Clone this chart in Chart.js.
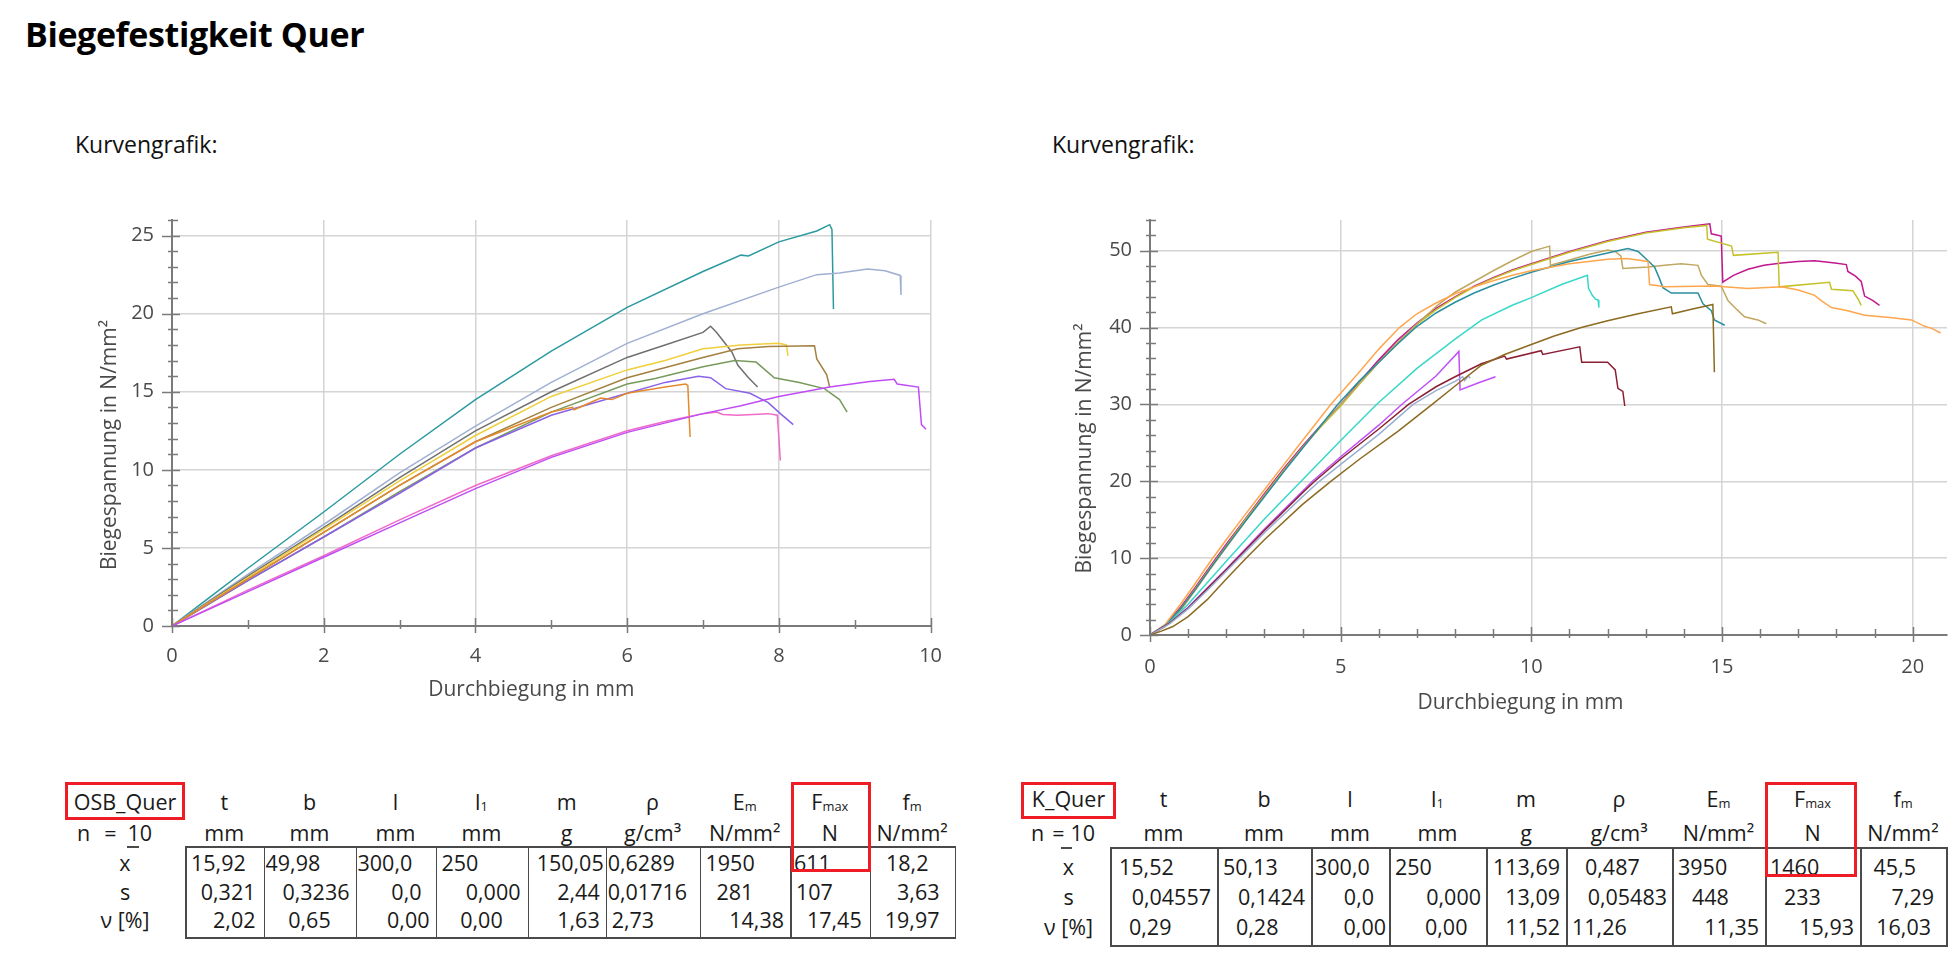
<!DOCTYPE html>
<html><head><meta charset="utf-8">
<script src="https://cdn.jsdelivr.net/npm/chart.js@4.4.1/dist/chart.umd.min.js"></script>
<style>
html,body{margin:0;padding:0;background:#fff;}
body{width:1960px;height:956px;position:relative;overflow:hidden;font-family:'Open Sans',sans-serif;color:#1a1a1a;}
#title{position:absolute;left:25px;top:11px;font-weight:700;font-size:34px;line-height:46px;color:#000;letter-spacing:-0.4px;white-space:nowrap;}
.kg{position:absolute;font-size:23px;line-height:30px;color:#111;white-space:nowrap;}
.cell{position:absolute;font-size:21.5px;line-height:29px;white-space:nowrap;color:#1a1a1a;}
.cell sub{font-size:60%;vertical-align:-0.05em;line-height:0;}
.ln{position:absolute;background:#4a4a4a;}
.red{position:absolute;border:3px solid #ee1c24;box-sizing:border-box;}
.wrap{position:absolute;}
</style></head><body>
<div id="title">Biegefestigkeit Quer</div>
<div class="kg" style="left:75px;top:129px;">Kurvengrafik:</div>
<div class="kg" style="left:1052px;top:129px;">Kurvengrafik:</div>
<div class="wrap" style="left:60px;top:190px;width:900px;height:531px;"><canvas id="c1"></canvas></div>
<div class="wrap" style="left:1040px;top:190px;width:920px;height:540px;"><canvas id="c2"></canvas></div>
<div id="tables"></div>
<script>
// ---------------- DATA: OSB_Quer curves (x = Durchbiegung mm, y = Biegespannung N/mm²)
const osbTeal   = [[0,0],[0.5,1.85],[1,3.7],[2,7.3],[3,11.0],[4,14.5],[5,17.6],[6,20.4],[7,22.7],[7.5,23.75],[7.6,23.7],[8,24.6],[8.5,25.3],[8.67,25.7],[8.7,25.4],[8.72,20.3]];
const osbSteel  = [[0,0],[1,3.3],[2,6.5],[3,9.8],[4,12.8],[5,15.6],[6,18.1],[7,20.0],[8,21.7],[8.5,22.5],[8.8,22.6],[9.17,22.86],[9.4,22.75],[9.6,22.45],[9.61,21.2]];
const osbGray   = [[0,0],[1,3.2],[2,6.3],[3,9.5],[4,12.5],[5,15.0],[6,17.2],[6.5,18.0],[7,18.8],[7.1,19.2],[7.18,18.8],[7.38,17.55],[7.46,16.7],[7.6,15.9],[7.72,15.3]];
const osbYellow = [[0,0],[1,3.1],[2,6.2],[3,9.3],[4,12.2],[5,14.7],[6,16.4],[6.5,17.0],[7,17.75],[7.5,18.0],[8,18.1],[8.1,18.0],[8.12,17.3]];
const osbBrown  = [[0,0],[1,3.0],[2,6.0],[3,9.0],[4,11.8],[5,14.0],[6,15.9],[7,17.2],[7.46,17.75],[7.86,17.9],[8.47,17.95],[8.5,17.1],[8.63,16.1],[8.67,15.3]];
const osbOlive  = [[0,0],[1,2.9],[2,5.7],[3,8.6],[4,11.4],[5,13.7],[6,15.5],[6.37,15.85],[7,16.6],[7.42,17.0],[7.7,16.9],[7.94,15.9],[8.27,15.6],[8.6,15.2],[8.8,14.5],[8.9,13.7]];
const osbViolet = [[0,0],[1,2.9],[2,5.7],[3,8.5],[4,11.4],[5,13.5],[6,14.9],[6.5,15.6],[6.94,16.0],[7.1,15.9],[7.3,15.2],[7.62,14.9],[7.86,14.3],[8.02,13.6],[8.19,12.9]];
const osbOrange = [[0,0],[1,3.0],[2,6.0],[3,9.0],[4,11.8],[5,13.7],[5.28,14.0],[5.3,13.85],[5.65,14.6],[5.8,14.5],[6,14.9],[6.5,15.3],[6.77,15.5],[6.8,15.4],[6.83,12.1]];
const osbPink   = [[0,0],[1,2.3],[2,4.5],[3,6.8],[4,9.0],[5,10.9],[6,12.5],[6.5,13.1],[7,13.6],[7.18,13.7],[7.26,13.55],[7.46,13.5],[7.86,13.6],[7.98,13.5],[8.02,10.6]];
const osbPurple = [[0,0],[1,2.2],[2,4.4],[3,6.6],[4,8.8],[5,10.8],[6,12.4],[7,13.6],[7.5,14.1],[8,14.7],[8.67,15.3],[9.2,15.65],[9.52,15.8],[9.56,15.5],[9.84,15.3],[9.88,12.9],[9.94,12.6]];

// ---------------- DATA: K_Quer curves
const kMagenta = [[0,0],[0.4,1.3],[0.8,3.6],[1.2,6.3],[1.6,9.1],[2,11.8],[2.5,15.1],[3,18.4],[3.5,21.6],[4,24.6],[4.5,27.4],[5,30],[5.5,33],[6,35.8],[6.5,38.4],[7,40.6],[7.5,42.5],[8,44],[8.5,45.4],[9,46.5],[9.5,47.5],[10,48.3],[11,49.9],[12,51.3],[13,52.4],[14,53.1],[14.68,53.5],[14.72,52.2],[14.98,51.9],[15.02,45.9],[15.3,46.8],[15.68,47.6],[16.1,48.1],[16.56,48.4],[17,48.6],[17.43,48.7],[17.96,48.4],[18.26,48.2],[18.3,47.3],[18.5,46.7],[18.65,46],[18.74,44.1],[18.96,43.5],[19.13,42.9]];
const kYellow  = [[0,0],[0.4,1.2],[0.8,3.4],[1.2,6.1],[1.6,8.9],[2,11.6],[2.5,15.0],[3,18.2],[3.5,21.4],[4,24.4],[4.5,27.2],[5,29.8],[5.5,32.7],[6,35.5],[6.5,38.1],[7,40.4],[7.5,42.3],[8,43.9],[8.5,45.3],[9,46.4],[9.5,47.4],[10,48.2],[11,49.8],[12,51.2],[13,52.3],[14,53.0],[14.6,53.3],[14.62,51.5],[15.25,50.6],[15.3,49.4],[16.47,49.8],[16.5,45.3],[17.82,45.9],[17.87,45.0],[18.43,44.8],[18.57,43.7],[18.65,42.9]];
const kTan     = [[0,0],[0.4,1.1],[0.8,3.2],[1.2,5.9],[1.6,8.7],[2,11.4],[2.5,14.8],[3,18.1],[3.5,21.3],[4,24.4],[4.5,27.3],[5,30],[5.5,32.8],[6,35.5],[6.5,38],[6.9,40],[7.56,43],[8,44.6],[8.5,46],[9,47.4],[9.5,48.7],[10,49.9],[10.48,50.6],[10.5,48.1],[11,48.8],[11.5,49.5],[12,50.1],[12.2,49.9],[12.35,49.3],[12.4,47.7],[13.06,47.9],[13.5,48.1],[13.93,48.3],[14.37,48.1],[14.46,46.8],[14.63,45.6],[14.98,45.4],[15.16,43.5],[15.4,42.3],[15.59,41.4],[15.94,41],[16.16,40.5]];
const kTeal    = [[0,0],[0.4,1.2],[0.8,3.4],[1.2,6.0],[1.6,8.8],[2,11.5],[2.5,14.8],[3,18.0],[3.5,21.2],[4,24.3],[4.5,27.4],[4.92,30],[5.5,33.1],[6,35.5],[6.5,37.9],[6.96,40],[7.5,41.9],[8,43.3],[8.5,44.5],[9,45.5],[9.5,46.4],[10,47.2],[11,48.6],[12,49.7],[12.53,50.3],[12.8,49.9],[13.06,48.7],[13.23,47.9],[13.35,46.5],[13.45,45.2],[13.67,44.5],[14.37,44.5],[14.5,43.1],[14.72,42.2],[14.8,41],[15.07,40.3]];
const kOrange  = [[0,0],[0.4,1.4],[0.8,4.0],[1.2,6.8],[1.6,9.7],[2,12.4],[2.5,15.7],[3,18.9],[3.5,22.1],[4,25.3],[4.74,30],[5.5,34.3],[6,37.2],[6.54,40],[7,41.8],[7.5,43.2],[8,44.4],[8.5,45.3],[9,46.1],[9.5,46.8],[10,47.4],[11,48.3],[12,48.9],[12.5,49],[13.06,48.6],[13.1,45.6],[13.5,45.3],[14.8,45.4],[15.68,45.1],[16.56,45.3],[17,44.9],[17.43,44.2],[17.6,43.5],[17.87,42.6],[18.3,42.2],[18.74,41.6],[19.4,41.3],[19.97,41],[20.3,40.2],[20.5,39.9],[20.73,39.3]];
const kTurq    = [[0,0],[0.5,1.6],[1,4.0],[1.5,6.8],[2,9.6],[3,15.1],[4,20.2],[5,25.3],[5.94,30],[7,34.7],[8,38.5],[8.7,41],[9.5,42.9],[10,43.9],[10.79,45.6],[11.47,46.8],[11.5,45.1],[11.6,44.2],[11.68,43.7],[11.75,43.6],[11.77,42.6]];
const kViolet  = [[0,0],[0.5,1.5],[1,3.6],[1.5,6.1],[2,8.6],[3,13.8],[4,18.7],[4.26,20],[5,23.2],[6,27.3],[6.6,30],[7.5,33.7],[8.1,36.9],[8.13,31.9],[8.6,32.8],[9.06,33.6]];
const kMaroon  = [[0,0],[0.5,1.5],[1,3.5],[1.5,6.0],[2,8.5],[3,13.6],[4,18.5],[4.32,20],[5,22.9],[6,26.8],[6.78,30],[7.5,32.3],[8,33.6],[8.69,35.3],[9.3,36.3],[9.35,35.9],[10.26,37],[10.3,36.5],[11.27,37.5],[11.32,35.5],[12.0,35.5],[12.2,34.5],[12.27,32.1],[12.4,31.7],[12.45,29.8]];
const kSteel   = [[0,0],[0.5,1.4],[1,3.4],[1.5,5.8],[2,8.3],[3,13.3],[4,18.0],[4.44,20],[5,22.2],[6,26.1],[6.9,30],[7.5,31.8],[8,33.0],[8.2,33.6],[8.25,33.1],[8.35,33.7],[8.4,33.4]];
const kBrown   = [[0,0],[0.3,0.5],[0.6,1.1],[1,2.4],[1.5,4.6],[2,7.3],[2.5,9.9],[3,12.4],[4,17.0],[4.74,20],[5.5,22.9],[6.5,26.5],[7.4,30],[8,32.4],[8.69,35.1],[9.3,36.5],[10,37.8],[10.6,38.9],[11.31,40],[12,40.9],[12.8,41.8],[13.67,42.7],[13.7,41.8],[14.2,42.4],[14.76,43],[14.8,34.2]];

// ---------------- DATA: tables
const headCols  = ['t','b','l','l<sub>1</sub>','m','ρ','E<sub>m</sub>','F<sub>max</sub>','f<sub>m</sub>'];
const unitCols  = ['mm','mm','mm','mm','g','g/cm³','N/mm²','N','N/mm²'];
const rowLabels = ['x','s','ν [%]'];
const nParts    = ['n','=','10'];
const osbRowX = ['15,92','49,98','300,0','250','150,05','0,6289','1950','611','18,2'];
const osbRowS = ['0,321','0,3236','0,0','0,000','2,44','0,01716','281','107','3,63'];
const osbRowV = ['2,02','0,65','0,00','0,00','1,63','2,73','14,38','17,45','19,97'];
const kRowX   = ['15,52','50,13','300,0','250','113,69','0,487','3950','1460','45,5'];
const kRowS   = ['0,04557','0,1424','0,0','0,000','13,09','0,05483','448','233','7,29'];
const kRowV   = ['0,29','0,28','0,00','0,00','11,52','11,26','11,35','15,93','16,03'];

// ---------------- layout / style (not data)
const osbLayout = {name:'OSB_Quer', cols:[185,263.5,355.5,435.5,527.5,605.7,699.5,790,869.7,954.5],
  nameBox:[65,185,782,820], fmaxBox:[791,871,782,872], rowsY:[802,833,863,892,920], boxY:[846,937], barX:[127,139], barY:846, nLeft:77, nGaps:[14,11],
  align:[['l6','l2','l2','l6','r2','l2','l6','l4','r26'],['r8','r6','r14','r7','r6','l2','l17','l6','r15'],['r8','c','r6','c','r6','l6','r6','r8','r15']]};
const kLayout = {name:'K_Quer', cols:[1110,1217,1311,1389,1486,1566,1672,1765,1860,1946],
  nameBox:[1021,1116,782,819], fmaxBox:[1765,1857,782,877], rowsY:[799,833,867,897,927], boxY:[847,945], barX:[1061,1072], barY:847, nLeft:1031, nGaps:[8,6],
  align:[['l9','l6','l4','l6','r6','l19','l6','l5','r30'],['r6','r6','r15','r5','r6','r5','l20','l19','r12'],['l19','l19','r3','l36','r6','l6','r6','r6','r15']]};

function addCell(root, x0, x1, cy, html, al){
  const d = document.createElement('div'); d.className='cell'; d.innerHTML = html;
  d.style.top = (cy - 15) + 'px';
  if (al === 'c'){ d.style.left = x0+'px'; d.style.width=(x1-x0)+'px'; d.style.textAlign='center'; }
  else if (al[0] === 'l'){ d.style.left = (x0 + parseFloat(al.slice(1)))+'px'; }
  else { d.style.left = x0+'px'; d.style.width = (x1 - x0 - parseFloat(al.slice(1)))+'px'; d.style.textAlign='right'; }
  root.appendChild(d);
  return d;
}
function addLine(root, x, y, w, h){ const d=document.createElement('div'); d.className='ln'; d.style.left=x+'px'; d.style.top=y+'px'; d.style.width=w+'px'; d.style.height=h+'px'; root.appendChild(d); }
function addBox(root, b){ const d=document.createElement('div'); d.className='red'; d.style.left=b[0]+'px'; d.style.width=(b[1]-b[0])+'px'; d.style.top=b[2]+'px'; d.style.height=(b[3]-b[2])+'px'; root.appendChild(d); }

function buildTable(L, rows){
  const root = document.getElementById('tables');
  const c = L.cols, ry = L.rowsY;
  addCell(root, L.nameBox[0], L.nameBox[1], ry[0], L.name, 'c');
  const nHtml = nParts[0] + '<span style="margin-left:'+L.nGaps[0]+'px">'+nParts[1]+'</span><span style="margin-left:'+L.nGaps[1]+'px">'+nParts[2]+'</span>';
  addCell(root, L.nLeft, L.nLeft, ry[1], nHtml, 'l0');
  const lc = (L.nameBox[0]+L.nameBox[1])/2;
  rowLabels.forEach((t,i)=> addCell(root, lc-60, lc+60, ry[2+i], t, 'c'));
  addLine(root, L.barX[0], L.barY, L.barX[1]-L.barX[0], 1.6);
  for (let j=0;j<9;j++){
    addCell(root, c[j], c[j+1], ry[0], headCols[j], 'c');
    addCell(root, c[j], c[j+1], ry[1], unitCols[j], 'c');
    rows.forEach((r,i)=> addCell(root, c[j], c[j+1], ry[2+i], r[j], L.align[i][j]));
  }
  const [t,b] = L.boxY;
  addLine(root, c[0], t, c[9]-c[0]+1.5, 1.5);
  addLine(root, c[0], b, c[9]-c[0]+1.5, 1.5);
  c.forEach(x => addLine(root, x, t, 1.5, b-t));
  addBox(root, L.nameBox);
  addBox(root, L.fmaxBox);
}
buildTable(osbLayout, [osbRowX, osbRowS, osbRowV]);
buildTable(kLayout, [kRowX, kRowS, kRowV]);

// ---------------- charts
const FONT = "'Open Sans', sans-serif";
const crossTicks = {
  id:'crossTicks',
  afterDraw(chart, args, o){
    const ctx = chart.ctx, xs = chart.scales.x, ys = chart.scales.y;
    ctx.save(); ctx.strokeStyle = '#7a7a7a'; ctx.lineWidth = 1.5;
    xs.ticks.forEach(t => { const p = Math.round(xs.getPixelForValue(t.value))+0.5; const maj = t.value % o.xMajor === 0; const a = chart.chartArea.bottom;
      ctx.beginPath(); ctx.moveTo(p, a - (maj?8:6)); ctx.lineTo(p, a + (maj?7:3)); ctx.stroke(); });
    ys.ticks.forEach(t => { const p = Math.round(ys.getPixelForValue(t.value))+0.5; const maj = t.value % o.yMajor === 0; const a = chart.chartArea.left;
      ctx.beginPath(); ctx.moveTo(a - (maj?10:4), p); ctx.lineTo(a + (maj?8:6), p); ctx.stroke(); });
    ctx.restore();
  }
};
const axisTitles = {
  id:'axisTitles',
  afterDraw(chart, args, o){
    const ctx = chart.ctx, ca = chart.chartArea;
    ctx.save(); ctx.fillStyle = '#4a4a4a'; ctx.font = "21px " + FONT; ctx.textAlign='center'; ctx.textBaseline='middle';
    ctx.fillText(o.xText, (ca.left+ca.right)/2 + o.xDx, ca.bottom + o.xDy);
    ctx.translate(ca.left + o.yDx, (ca.top+ca.bottom)/2 + o.yDy); ctx.rotate(-Math.PI/2);
    ctx.fillText(o.yText, 0, 0);
    ctx.restore();
  }
};

function makeChart(id, series, colors, sc){
  const datasets = series.map((s,i)=>({data: s.map(p=>({x:p[0], y:p[1]})), borderColor: colors[i], borderWidth:1.5, showLine:true, pointRadius:0, fill:false, tension:0}));
  return new Chart(document.getElementById(id), {
    type:'scatter',
    data:{datasets},
    plugins:[crossTicks, axisTitles],
    options:{
      responsive:true, maintainAspectRatio:false, animation:false, events:[],
      layout:{padding:sc.pad},
      plugins:{legend:{display:false}, tooltip:{enabled:false},
        crossTicks:{xMajor:sc.xMajor, yMajor:sc.yMajor},
        axisTitles:{xText:'Durchbiegung in mm', yText:'Biegespannung in N/mm²', xDx:sc.xDx, xDy:sc.xDy, yDx:sc.yDx, yDy:sc.yDy}},
      scales:{
        x:{type:'linear', min:0, max:sc.xMax,
          afterFit(s){ s.height = sc.xH; },
          ticks:{stepSize:1, autoSkip:false, includeBounds:false, maxRotation:0, padding:sc.xPad, color:'#4a4a4a', font:{family:FONT, size:20},
            callback:(v)=> (v % sc.xMajor === 0 ? String(v) : '')},
          grid:{drawTicks:false, lineWidth:1.5, color:(c)=> (c.tick && c.tick.value % sc.xMajor === 0 && c.tick.value !== 0) ? '#d4d4d4' : 'rgba(0,0,0,0)'},
          border:{display:true, color:'#7a7a7a', width:2}},
        y:{type:'linear', min:0, max:sc.yMax,
          afterFit(s){ s.width = sc.yW; },
          ticks:{stepSize:sc.yStep, autoSkip:false, includeBounds:false, padding:18, color:'#4a4a4a', font:{family:FONT, size:20},
            callback:(v)=> (v % sc.yMajor === 0 ? String(v) : '')},
          grid:{drawTicks:false, lineWidth:1.5, color:(c)=> (c.tick && c.tick.value % sc.yMajor === 0 && c.tick.value !== 0) ? '#d4d4d4' : 'rgba(0,0,0,0)'},
          border:{display:true, color:'#7a7a7a', width:2}}
      }
    }
  });
}

makeChart('c1',
  [osbPurple, osbPink, osbOrange, osbViolet, osbOlive, osbBrown, osbYellow, osbGray, osbSteel, osbTeal],
  ['#c04cf5','#f06ac8','#e38a2d','#8a62e8','#789a5c','#a3803f','#f0cf3c','#707070','#a0b0d2','#2b9aa0'],
  {xMax:10, yMax:26, yStep:1, xMajor:2, yMajor:5, pad:{top:13,right:12,left:0,bottom:0}, xH:95, yW:112, xPad:18,
   xDx:-20, xDy:64, yDx:-62, yDy:22});

makeChart('c2',
  [kBrown, kSteel, kMaroon, kViolet, kTurq, kOrange, kTeal, kTan, kYellow, kMagenta],
  ['#8c6a20','#9ab0d0','#8b2035','#c050f8','#38d8c8','#ffa64d','#2a8fa0','#c0a860','#c4c228','#c0188f'],
  {xMax:20.9, yMax:54, yStep:2, xMajor:5, yMajor:10, pad:{top:17,right:13,left:0,bottom:0}, xH:95, yW:110, xPad:20,
   xDx:-28, xDy:68, yDx:-65, yDy:21});
</script>
</body></html>
